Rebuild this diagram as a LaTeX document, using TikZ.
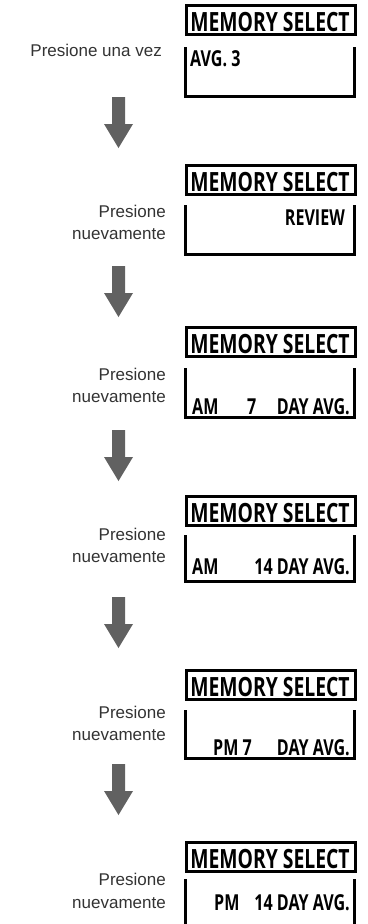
\documentclass[tikz,border=0pt]{standalone}
\usepackage{fontspec}
\setmainfont{Liberation Sans}
\newfontfamily\lcdfont[FakeStretch=0.73]{Open Sans}
\begin{document}
\begin{tikzpicture}[x=1pt,y=-1pt,
  membox/.style={draw=black,line width=2.5pt,minimum width=169pt,minimum height=29pt,inner sep=0pt,anchor=north west},
  memtext/.style={font=\lcdfont\bfseries\fontsize{26.5}{26.5}\selectfont,inner sep=0pt},
  lcdtext/.style={font=\lcdfont\bfseries\fontsize{22}{22}\selectfont,inner sep=0pt},
  lbl/.style={font=\fontsize{17}{20}\selectfont,text=black!80,inner sep=0pt,anchor=base east},
  displine/.style={line width=3pt,line cap=butt},
  bigarrow/.style={fill=black!62,draw=none}]
\useasboundingbox (0,0) rectangle (367,924);
\fill[white] (0,0) rectangle (367,924);

% memory select boxes
\foreach \t [count=\i] in {3,163,325,494,668,840}{
  \node[membox] (mem\i) at (185,\t+1) {};
  \node[memtext,anchor=base] (memt\i) at (270,\t+28) {MEMORY SELECT};
}

% display frames (left, bottom, right)
\draw[displine] (185,47) coordinate (d1a) -- (185,96) -- (354,96) -- (354,47) coordinate (d1b);
\draw[displine] (185,205) coordinate (d2a) -- (185,254) -- (354,254) -- (354,205) coordinate (d2b);
\draw[displine] (185,368) coordinate (d3a) -- (185,417) -- (354,417) -- (354,368) coordinate (d3b);
\draw[displine] (185,535) coordinate (d4a) -- (185,581) -- (354,581) -- (354,535) coordinate (d4b);
\draw[displine] (185,710) coordinate (d5a) -- (185,758) -- (354,758) -- (354,710) coordinate (d5b);
\draw[displine] (185,879) coordinate (d6a) -- (185,926) coordinate (d6c);
\draw[displine] (354,879) coordinate (d6b) -- (354,926) coordinate (d6d);

% display texts
\node[lcdtext,anchor=base west] (t1) at (190,66) {AVG. 3};
\node[lcdtext,anchor=base east] (t2) at (345,225) {REVIEW};
\node[lcdtext,anchor=base west] (t3a) at (192,414) {AM};
\node[lcdtext,anchor=base west] (t3b) at (247,414) {7};
\node[lcdtext,anchor=base east] (t3c) at (350,414) {DAY AVG.};
\node[lcdtext,anchor=base west] (t4a) at (192,574) {AM};
\node[lcdtext,anchor=base east] (t4b) at (350,574) {14 DAY AVG.};
\node[lcdtext,anchor=base west] (t5a) at (213,755) {PM 7};
\node[lcdtext,anchor=base east] (t5b) at (350,755) {DAY AVG.};
\node[lcdtext,anchor=base west] (t6a) at (214,910) {PM};
\node[lcdtext,anchor=base east] (t6b) at (350,910) {14 DAY AVG.};

% left labels
\node[lbl] (l1) at (162,56) {Presione una vez};
\node[lbl] (l2a) at (166,217) {Presione};
\node[lbl] (l2b) at (166,239) {nuevamente};
\node[lbl] (l3a) at (166,380) {Presione};
\node[lbl] (l3b) at (166,402) {nuevamente};
\node[lbl] (l4a) at (166,540) {Presione};
\node[lbl] (l4b) at (166,562) {nuevamente};
\node[lbl] (l5a) at (166,718) {Presione};
\node[lbl] (l5b) at (166,740) {nuevamente};
\node[lbl] (l6a) at (166,885) {Presione};
\node[lbl] (l6b) at (166,908) {nuevamente};

% arrows
\foreach \a in {97,266,430,597,764}{
  \fill[bigarrow] (112,\a) -- (125,\a) -- (125,\a+27) -- (133,\a+27)
     -- (118.5,\a+51) -- (104,\a+27) -- (112,\a+27) -- cycle;
}
\end{tikzpicture}
\end{document}
